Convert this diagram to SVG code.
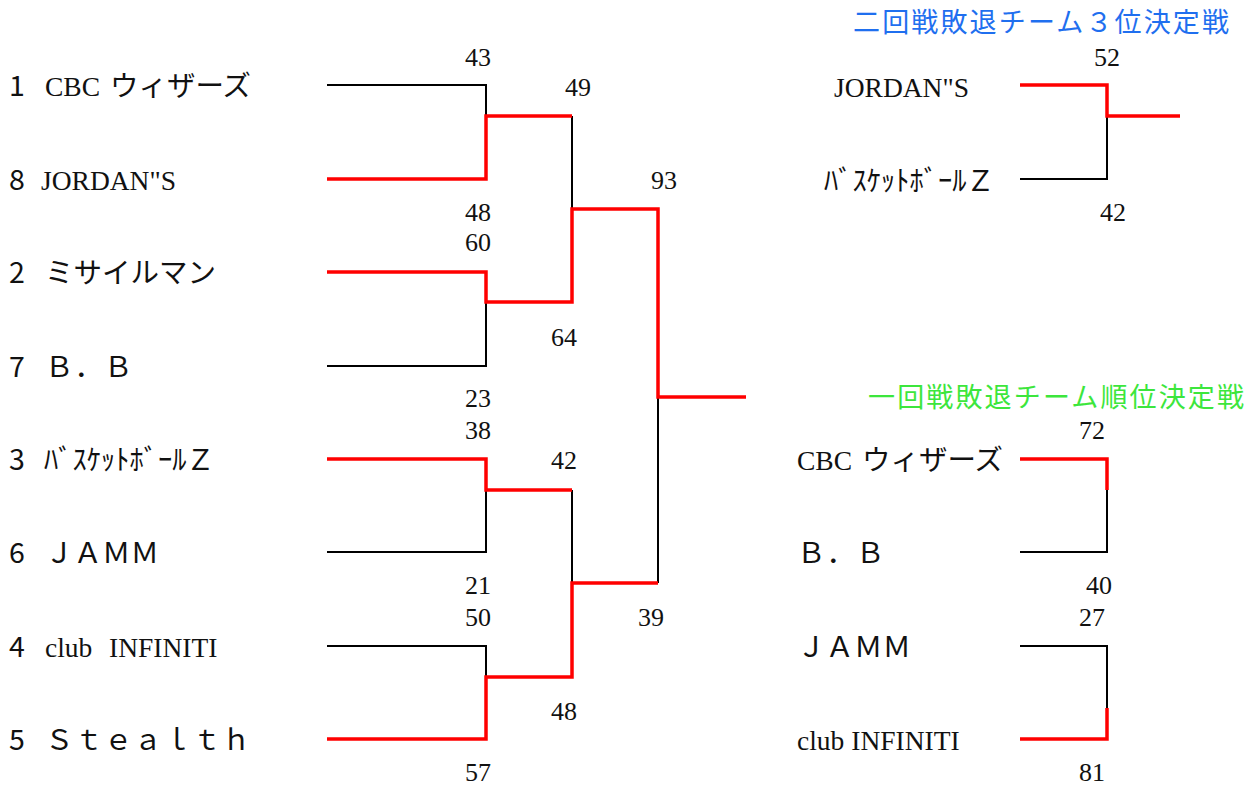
<svg xmlns="http://www.w3.org/2000/svg" width="1253" height="787" viewBox="0 0 1253 787">
<style>
.bg{fill:#ffffff}
.serif{font-family:"Liberation Serif","Times New Roman",serif;font-size:27.5px;fill:#111}
.sans{font-family:"Noto Sans CJK JP","Noto Sans",sans-serif;font-size:28.5px;fill:#111}
.score{font-family:"Liberation Serif","Times New Roman",serif;font-size:26px;fill:#111;text-anchor:middle}
.lose{fill:none;stroke:#000;stroke-width:2}
.win{fill:none;stroke:#ff0000;stroke-width:3.5;stroke-linejoin:miter}
.t3{font-family:"Noto Sans CJK JP",sans-serif;font-size:27px;fill:#1f6fef}
.t1{font-family:"Noto Sans CJK JP",sans-serif;font-size:27px;fill:#3ce63c}
</style>
<rect class="bg" x="0" y="0" width="1253" height="787"/>

<g id="connectors">
  <polyline class="lose" points="327,85 486,85 486,116"/>
  <polyline class="lose" points="327,366 486,366 486,302"/>
  <polyline class="lose" points="327,552 486,552 486,490"/>
  <polyline class="lose" points="327,646 486,646 486,677"/>
  <polyline class="lose" points="572,116 572,209"/>
  <polyline class="lose" points="572,490 572,583"/>
  <polyline class="lose" points="658,397 658,583"/>
  <polyline class="lose" points="1020,179 1107,179 1107,116"/>
  <polyline class="lose" points="1020,552 1107,552 1107,490"/>
  <polyline class="lose" points="1020,646 1107,646 1107,708"/>
  <polyline class="win" points="327,179 486,179 486,116 572,116"/>
  <polyline class="win" points="327,272 486,272 486,302 572,302 572,209 658,209 658,397 746,397"/>
  <polyline class="win" points="327,459 486,459 486,490 572,490"/>
  <polyline class="win" points="327,739 486,739 486,677 572,677 572,583 658,583"/>
  <polyline class="win" points="1020,85 1107,85 1107,116 1180,116"/>
  <polyline class="win" points="1020,459 1107,459 1107,490"/>
  <polyline class="win" points="1020,739 1107,739 1107,708"/>
</g>

<g id="scores">
  <text class="score" x="478" y="66">43</text>
  <text class="score" x="478" y="221">48</text>
  <text class="score" x="478" y="251">60</text>
  <text class="score" x="478" y="407">23</text>
  <text class="score" x="478" y="439">38</text>
  <text class="score" x="478" y="594">21</text>
  <text class="score" x="478" y="626">50</text>
  <text class="score" x="478" y="781">57</text>
  <text class="score" x="578" y="96">49</text>
  <text class="score" x="564" y="346">64</text>
  <text class="score" x="564" y="469">42</text>
  <text class="score" x="564" y="720">48</text>
  <text class="score" x="664" y="189">93</text>
  <text class="score" x="651" y="626">39</text>
  <text class="score" x="1107" y="66">52</text>
  <text class="score" x="1113" y="221">42</text>
  <text class="score" x="1092" y="439">72</text>
  <text class="score" x="1099" y="594">40</text>
  <text class="score" x="1092" y="626">27</text>
  <text class="score" x="1092" y="781">81</text>
</g>

<g id="team1"><text y="96"><tspan class="sans" x="9">1</tspan><tspan class="serif" x="45">CBC</tspan><tspan class="sans" x="110">ウィザーズ</tspan></text></g>
<g id="team8"><text y="190"><tspan class="sans" x="9">8</tspan><tspan class="serif" x="41">JORDAN"S</tspan></text></g>
<g id="team2"><text y="283"><tspan class="sans" x="9">2</tspan><tspan class="sans" x="45">ミサイルマン</tspan></text></g>
<g id="team7"><text y="377"><tspan class="sans" x="9">7</tspan><tspan class="sans" x="45" letter-spacing="1">Ｂ．Ｂ</tspan></text></g>
<g id="team3"><text y="470"><tspan class="sans" x="44">ﾊﾞｽｹｯﾄﾎﾞｰﾙ</tspan><tspan class="sans" x="9">3</tspan><tspan class="sans" x="186">Ｚ</tspan></text></g>
<g id="team6"><text y="563"><tspan class="sans" x="9">6</tspan><tspan class="sans" x="45">ＪＡＭＭ</tspan></text></g>
<g id="team4"><text y="657"><tspan class="sans" x="9">4</tspan><tspan class="serif" x="45">club</tspan><tspan class="serif" x="109">INFINITI</tspan></text></g>
<g id="team5"><text y="750"><tspan class="sans" x="9">5</tspan><tspan class="sans" x="45" letter-spacing="1">Ｓｔｅａｌｔｈ</tspan></text></g>

<g id="title3"><text class="t3" x="853" y="32" textLength="376" lengthAdjust="spacing">二回戦敗退チーム３位決定戦</text></g>
<g id="r3-jordans"><text class="serif" x="834" y="97">JORDAN"S</text></g>
<g id="r3-basket"><text y="191"><tspan class="sans" x="824">ﾊﾞｽｹｯﾄﾎﾞｰﾙ</tspan><tspan class="sans" x="966">Ｚ</tspan></text></g>

<g id="title1"><text class="t1" x="868" y="407" textLength="376" lengthAdjust="spacing">一回戦敗退チーム順位決定戦</text></g>
<g id="r1-cbc"><text y="470"><tspan class="serif" x="797">CBC</tspan><tspan class="sans" x="862">ウィザーズ</tspan></text></g>
<g id="r1-bb"><text class="sans" x="797" y="563" letter-spacing="1">Ｂ．Ｂ</text></g>
<g id="r1-jamm"><text class="sans" x="797" y="657">ＪＡＭＭ</text></g>
<g id="r1-club"><text class="serif" x="797" y="750">club INFINITI</text></g>
</svg>
